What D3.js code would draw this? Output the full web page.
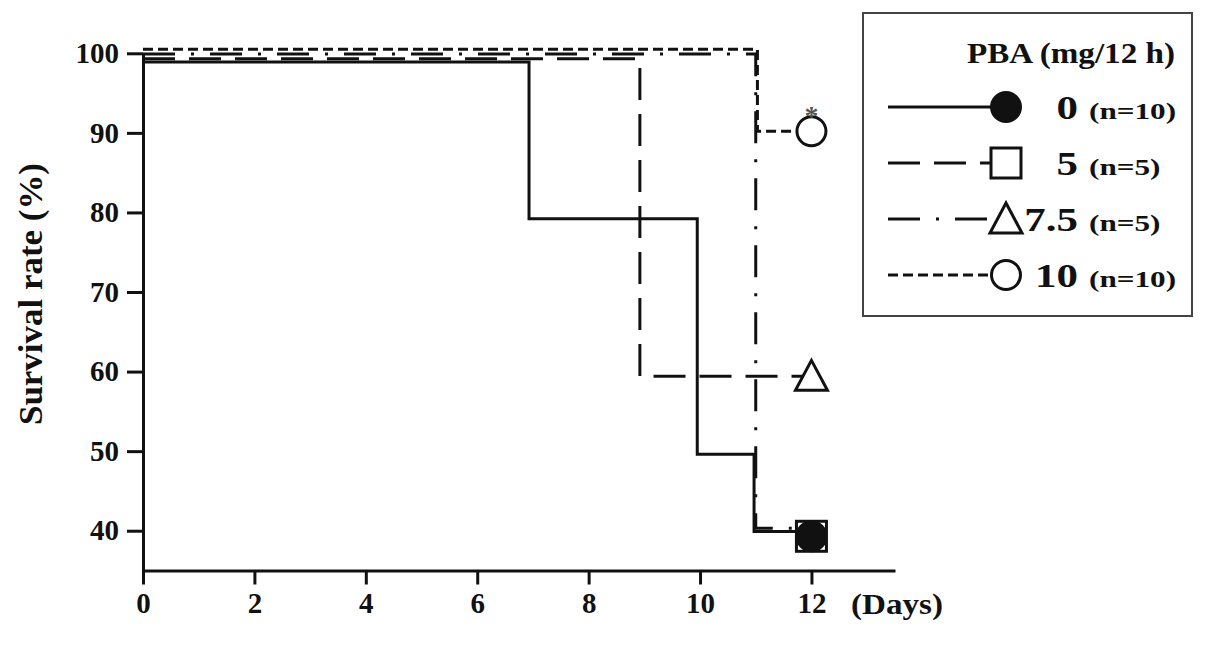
<!DOCTYPE html>
<meta charset="utf-8">
<style>
body { margin: 0; background: #fff; }
svg text { font-family: "Liberation Serif", "Times New Roman", serif; font-weight: bold; fill: #111; }
.axis path, .axis line { stroke: #111; stroke-width: 3; }
.axis text { font-size: 29px; }
</style>
<div class="chart"></div>
<script src="https://cdn.jsdelivr.net/npm/d3@7"></script>
<script>

// groups (PBA dose) and sizes
var groups = ["0", "5", "7.5", "10"];
var groupN = ["(n=10)", "(n=5)", "(n=5)", "(n=10)"];

// step curves: day of each step and survival after it
var days0 = [0, 6.93, 9.95, 10.97, 12];
var surv0 = [98.9, 79.2, 49.6, 39.9, 39.9];
var days5 = [0, 8.92, 12];
var surv5 = [99.3, 59.4, 59.4];
var days75 = [0, 11.0, 12];
var surv75 = [99.9, 40.3, 40.3];
var days10 = [0, 11.03, 12];
var surv10 = [100.5, 90.2, 90.2];

// symbol at day 12 for each curve as printed in the figure, and in the legend
var endSurv = [39.3, 59.4, 39.3, 90.2];
var endSymbols = ["circle", "triangle", "square", "circle"];
var legendSymbols = ["circle", "square", "triangle", "circle"];

var xTicks = [0, 2, 4, 6, 8, 10, 12];
var yTicks = [40, 50, 60, 70, 80, 90, 100];

var width = 1205, height = 646;
var dashes = [null, "32,14", "32,16,3,16", "10,5"];
var fills = ["#111", "#fff", "#fff", "#fff"];

var svg = d3.select(".chart").append("svg")
    .attr("width", width)
    .attr("height", height);

var x = d3.scaleLinear().domain([0, 13.5]).range([143, 895]);
var y = d3.scaleLinear().domain([35, 100]).range([570.5, 53.3]);

// axes
var gx = svg.append("g")
    .attr("class", "axis")
    .attr("transform", "translate(0," + y(35) + ")")
    .call(d3.axisBottom(x).tickValues(xTicks).tickSize(14).tickSizeOuter(0).tickPadding(8));
gx.selectAll("text").attr("dy", "0.71em");

var gy = svg.append("g")
    .attr("class", "axis")
    .attr("transform", "translate(" + x(0) + ",0)")
    .call(d3.axisLeft(y).tickValues(yTicks).tickSize(16).tickSizeOuter(0).tickPadding(8));

svg.append("text")
    .attr("x", 851)
    .attr("y", y(35) + 43)
    .attr("textLength", 92)
    .attr("lengthAdjust", "spacingAndGlyphs")
    .style("font-size", "30px")
    .text("(Days)");

svg.append("text")
    .attr("transform", "translate(42,294) rotate(-90)")
    .style("text-anchor", "middle")
    .style("font-size", "33px")
    .attr("textLength", 262)
    .attr("lengthAdjust", "spacingAndGlyphs")
    .text("Survival rate (%)");

// curves
var series = [
  {days: days0, surv: surv0},
  {days: days5, surv: surv5},
  {days: days75, surv: surv75},
  {days: days10, surv: surv10}
];

var line = d3.line()
    .x(function(d) { return x(d[0]); })
    .y(function(d) { return y(d[1]); })
    .curve(d3.curveStepAfter);

series.forEach(function(s, i) {
  svg.append("path")
      .datum(d3.zip(s.days, s.surv))
      .attr("d", line)
      .attr("fill", "none")
      .attr("stroke", "#111")
      .attr("stroke-width", 3)
      .attr("stroke-dasharray", dashes[i]);
});

function drawSymbol(g, type, cx, cy, fill) {
  if (type === "circle") {
    g.append("circle").attr("cx", cx).attr("cy", cy).attr("r", 14.5)
        .attr("fill", fill).attr("stroke", "#111").attr("stroke-width", 3);
  } else if (type === "square") {
    g.append("rect").attr("x", cx - 15).attr("y", cy - 15).attr("width", 30).attr("height", 30)
        .attr("fill", fill).attr("stroke", "#111").attr("stroke-width", 3);
  } else {
    g.append("path")
        .attr("d", "M" + cx + "," + (cy - 16) + "L" + (cx + 16) + "," + (cy + 14) + "L" + (cx - 16) + "," + (cy + 14) + "Z")
        .attr("fill", fill).attr("stroke", "#111").attr("stroke-width", 3).attr("stroke-linejoin", "miter");
  }
}

// end markers; the filled circle sits inside the open square at 40%
var marks = svg.append("g");
series.forEach(function(s, i) {
  var last = s.days.length - 1;
  drawSymbol(marks, endSymbols[i], x(s.days[last]), y(endSurv[i]), i === 2 ? "none" : fills[i]);
});

svg.append("text")
    .attr("x", x(12))
    .attr("y", y(endSurv[3]) - 6)
    .style("text-anchor", "middle")
    .style("font-size", "28px")
    .style("fill", "#555")
    .text("*");

// legend
var legend = svg.append("g");
legend.append("rect")
    .attr("x", 863).attr("y", 13)
    .attr("width", 329).attr("height", 303)
    .attr("fill", "#fff")
    .attr("stroke", "#444")
    .attr("stroke-width", 2);

legend.append("text")
    .attr("x", 1175).attr("y", 63)
    .style("text-anchor", "end")
    .style("font-size", "30px")
    .attr("textLength", 208)
    .attr("lengthAdjust", "spacingAndGlyphs")
    .text("PBA (mg/12 h)");

var rowY = d3.scalePoint().domain(groups).range([107, 275]);

groups.forEach(function(gname, i) {
  var ry = rowY(gname);
  legend.append("line")
      .attr("x1", 888).attr("x2", 1006)
      .attr("y1", ry).attr("y2", ry)
      .attr("stroke", "#111").attr("stroke-width", 3)
      .attr("stroke-dasharray", dashes[i]);
  drawSymbol(legend, legendSymbols[i], 1006, ry, fills[i]);
  legend.append("text")
      .attr("transform", "translate(1078," + (ry + 12) + ") scale(1.3,1)")
      .style("text-anchor", "end")
      .style("font-size", "33px")
      .text(gname);
  legend.append("text")
      .attr("transform", "translate(1089," + (ry + 12) + ") scale(1.3,1)")
      .style("font-size", "24px")
      .text(groupN[i]);
});

</script>
